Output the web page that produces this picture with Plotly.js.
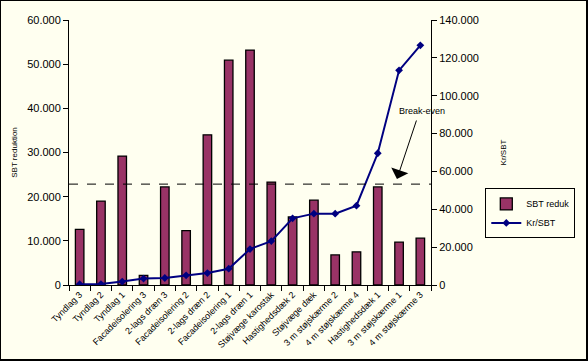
<!DOCTYPE html>
<html><head><meta charset="utf-8">
<script src="https://cdn.plot.ly/plotly-3.0.1.min.js"></script>
<style>
html,body{margin:0;padding:0;background:#FFFFF0;}
#wrap{width:588px;height:361px;box-sizing:border-box;border:1px solid #000;border-right-width:2px;border-bottom-width:2px;overflow:hidden;}
#chart{width:586px;height:358px;}
</style></head>
<body><div id="wrap"><div id="chart"></div></div>
<script>
const categories = ["Tyndlag 3","Tyndlag 2","Tyndlag 1","Facadeisolering 3","2-lags dræn 3","Facadeisolering 2","2-lags dræn 2","Facadeisolering 1","2-lags dræn 1","Støjvæge karostak","Hastighedsdæk 2","Støjvæge dæk","3 m støjskærme 2","4 m støjskærme 4","Hastighedsdæk 1","3 m støjskærme 1","4 m støjskærme 3"];
const sbtReduk = [12600,19000,29200,2200,22200,12300,34000,50900,53200,23300,15400,19200,6800,7500,22200,9700,10600];
const krPerSbt = [400,500,1800,3400,3700,5100,6300,8600,19000,23200,35200,37700,37700,41900,69600,113400,126600];
const breakEven = 53300;
const leftTicks = [0,10000,20000,30000,40000,50000,60000];
const rightTicks = [0,20000,40000,60000,80000,100000,120000,140000];

const font = {family:"Liberation Sans, Arial, sans-serif", color:"#000"};
const data = [
  {type:"bar", name:"SBT reduk", x:categories, y:sbtReduk, marker:{color:"#993366", line:{color:"#000", width:1.3}}, width:0.4, yaxis:"y"},
  {type:"scatter", mode:"lines+markers", name:"Kr/SBT", x:categories, y:krPerSbt, yaxis:"y2", line:{color:"#000080", width:2}, marker:{symbol:"diamond", size:6, color:"#000080"}}
];
const layout = {
  width:586, height:358, paper_bgcolor:"#FFFFF0", plot_bgcolor:"#FFFFF0",
  margin:{l:68, r:139, t:19, b:74},
  separators:",.",
  font:Object.assign({size:11}, font),
  showlegend:true,
  legend:{x:1.15, xanchor:"left", y:0.27, yanchor:"middle", bgcolor:"#FFFFF0", bordercolor:"#000", borderwidth:1, font:Object.assign({size:9}, font), tracegroupgap:0, itemwidth:30},
  xaxis:{type:"category", showline:true, linecolor:"#000", linewidth:1, ticks:"outside", tickson:"boundaries", ticklen:5, tickcolor:"#000", tickangle:-45, tickfont:Object.assign({size:9}, font), showgrid:false, zeroline:false, range:[-0.5,16.5]},
  yaxis:{range:[0,60000], tickvals:leftTicks, tickformat:",d", showline:true, linecolor:"#000", linewidth:1, ticks:"outside", ticklen:5, tickcolor:"#000", showgrid:false, zeroline:false, tickfont:Object.assign({size:11}, font), title:{text:"SBT reduktion", font:Object.assign({size:8}, font), standoff:8}},
  yaxis2:{overlaying:"y", side:"right", range:[0,140000], tickvals:rightTicks, tickformat:",d", showline:true, linecolor:"#000", linewidth:1, ticks:"outside", ticklen:5, tickcolor:"#000", showgrid:false, zeroline:false, tickfont:Object.assign({size:11}, font), title:{text:"Kr/SBT", font:Object.assign({size:8}, font), standoff:22}},
  shapes:[{type:"line", xref:"paper", x0:0, x1:1, yref:"y2", y0:breakEven, y1:breakEven, line:{color:"#000", width:1, dash:"dash"}}],
  annotations:[{xref:"paper", yref:"y2", x:0.974, y:91900, text:"Break-even", showarrow:false, xanchor:"center", yanchor:"middle", font:Object.assign({size:9}, font)},
    {xref:"x", yref:"y2", x:14.9, y:56000, text:"", showarrow:true, ax:20, ay:-60, arrowhead:1, arrowsize:3, arrowwidth:1, arrowcolor:"#000"}]
};
Plotly.newPlot("chart", data, layout, {displayModeBar:false, staticPlot:true});
</script></body></html>
